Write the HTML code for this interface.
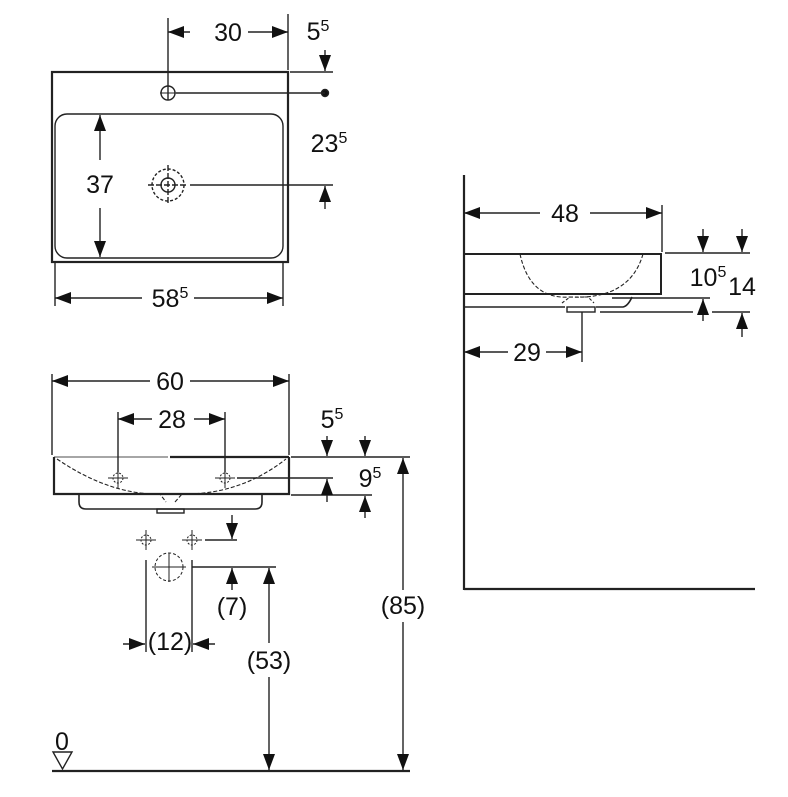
<!DOCTYPE html>
<html><head><meta charset="utf-8"><style>
html,body{margin:0;padding:0;background:#fff}
svg{display:block}
text{font-family:"Liberation Sans",sans-serif;font-size:25px;fill:#111}
.s{font-size:16px}
</style></head><body>
<svg id="d" width="788" height="797" viewBox="0 0 788 797" xmlns="http://www.w3.org/2000/svg">
<g id="g" stroke="#222" stroke-width="1.4" fill="none">
<!-- TOP VIEW -->
<rect x="52" y="72" width="236" height="190" stroke-width="2.2"/>
<rect x="55" y="114" width="228" height="144" rx="12"/>
<circle cx="168" cy="93" r="7"/>
<line x1="160" y1="93" x2="176" y2="93" stroke-width="1"/>
<circle cx="325" cy="93" r="3.5" fill="#111"/>
<circle cx="168" cy="185" r="7"/>
<circle cx="168" cy="185" r="16" stroke-dasharray="3,2"/>
<line x1="148" y1="185" x2="188" y2="185" stroke-dasharray="6,2"/>
<line x1="168" y1="165" x2="168" y2="205" stroke-dasharray="6,2"/>
<line x1="176" y1="93" x2="325" y2="93"/>
<line x1="168" y1="18" x2="168" y2="100"/>
<line x1="288" y1="14" x2="288" y2="70"/>
<line class="a" x1="190" y1="32" x2="168" y2="32"/>
<line class="a" x1="248" y1="32" x2="288" y2="32"/>
<line class="a" x1="325" y1="50" x2="325" y2="71"/>
<line x1="290" y1="72" x2="333" y2="72"/>
<line x1="190" y1="185" x2="333" y2="185"/>
<line class="a" x1="325" y1="209" x2="325" y2="186"/>
<line class="a" x1="100" y1="160" x2="100" y2="115"/>
<line class="a" x1="100" y1="208" x2="100" y2="257"/>
<line x1="55" y1="262" x2="55" y2="306"/>
<line x1="283" y1="262" x2="283" y2="306"/>
<line class="a" x1="142" y1="298" x2="55" y2="298"/>
<line class="a" x1="194" y1="298" x2="283" y2="298"/>
<!-- FRONT VIEW -->
<line x1="54" y1="457" x2="168" y2="457" stroke="#888"/>
<line x1="170" y1="457" x2="289" y2="457" stroke-width="2.2"/>
<path d="M54,457 V494 H289 V457" stroke-width="2.2"/>
<path d="M79,494 V502 Q79,509 86,509 H255 Q262,509 262,502 V494" stroke-width="1.6"/>
<rect x="157" y="509" width="27" height="4"/>
<path d="M57,459 Q110,495 160,494 L166,502 M175,502 L182,494 Q240,495 286,459" stroke-dasharray="4,2" stroke-width="1.1"/>
<g stroke-width="1">
<line x1="108" y1="478" x2="128" y2="478"/><line x1="118" y1="468" x2="118" y2="488"/><circle cx="118" cy="478" r="5" stroke-dasharray="2,1.5"/>
<line x1="215" y1="478" x2="235" y2="478"/><line x1="225" y1="468" x2="225" y2="488"/><circle cx="225" cy="478" r="5" stroke-dasharray="2,1.5"/>
<line x1="136" y1="540" x2="156" y2="540"/><line x1="146" y1="530" x2="146" y2="550"/><circle cx="146" cy="540" r="5" stroke-dasharray="2,1.5"/>
<line x1="182" y1="540" x2="202" y2="540"/><line x1="192" y1="530" x2="192" y2="550"/><circle cx="192" cy="540" r="5" stroke-dasharray="2,1.5"/>
<line x1="152" y1="567" x2="186" y2="567"/><line x1="169" y1="553" x2="169" y2="582"/><circle cx="169" cy="567" r="14" stroke-dasharray="3,2"/>
</g>
<line x1="52" y1="374" x2="52" y2="455"/>
<line x1="289" y1="374" x2="289" y2="455"/>
<line class="a" x1="150" y1="381" x2="52" y2="381"/>
<line class="a" x1="190" y1="381" x2="289" y2="381"/>
<line x1="118" y1="412" x2="118" y2="472"/>
<line x1="225" y1="412" x2="225" y2="472"/>
<line class="a" x1="152" y1="419" x2="118" y2="419"/>
<line class="a" x1="194" y1="419" x2="225" y2="419"/>
<line x1="237" y1="478" x2="333" y2="478"/>
<line x1="291" y1="457" x2="410" y2="457"/>
<line class="a" x1="327" y1="436" x2="327" y2="456"/>
<line class="a" x1="365" y1="436" x2="365" y2="456"/>
<line class="a" x1="327" y1="502" x2="327" y2="479"/>
<line x1="291" y1="495" x2="372" y2="495"/>
<line class="a" x1="365" y1="518" x2="365" y2="496"/>
<line class="a" x1="403" y1="590" x2="403" y2="458"/>
<line class="a" x1="403" y1="622" x2="403" y2="770"/>
<line x1="205" y1="540" x2="237" y2="540"/>
<line class="a" x1="232" y1="515" x2="232" y2="539"/>
<line x1="192" y1="567" x2="276" y2="567"/>
<line class="a" x1="232" y1="590" x2="232" y2="568"/>
<line class="a" x1="269" y1="643" x2="269" y2="568"/>
<line class="a" x1="269" y1="677" x2="269" y2="770"/>
<line x1="146" y1="560" x2="146" y2="652"/>
<line x1="192" y1="560" x2="192" y2="652"/>
<line class="a" x1="123" y1="644" x2="145" y2="644"/>
<line class="a" x1="215" y1="644" x2="193" y2="644"/>
<line x1="52" y1="771" x2="410" y2="771" stroke-width="2.2"/>
<path d="M53,752 H72 L62.5,769 Z"/>
<!-- SIDE VIEW -->
<line x1="464" y1="175" x2="464" y2="590" stroke-width="2.2"/>
<line x1="464" y1="589" x2="755" y2="589" stroke-width="2.2"/>
<line x1="662" y1="205" x2="662" y2="252"/>
<line class="a" x1="540" y1="213" x2="464" y2="213"/>
<line class="a" x1="590" y1="213" x2="662" y2="213"/>
<path d="M464,254 H661 V294 H464" stroke-width="2"/>
<path d="M464,307 H565 M596,307 H623 Q628,306 632,297" stroke-width="1.6"/>
<rect x="567" y="307" width="28" height="5"/>
<path d="M520,254 Q530,300 570,297 Q630,300 643,254" stroke-dasharray="4,2" stroke-width="1.1"/>
<path d="M562,303 L570,297 H588 L594,303" stroke-dasharray="3,2" stroke-width="1.1"/>
<line x1="665" y1="253" x2="750" y2="253"/>
<line class="a" x1="703" y1="229" x2="703" y2="252"/>
<line class="a" x1="742" y1="229" x2="742" y2="252"/>
<line x1="612" y1="298" x2="710" y2="298"/>
<line class="a" x1="703" y1="321" x2="703" y2="299"/>
<line x1="600" y1="312" x2="693" y2="312"/>
<line x1="712" y1="312" x2="750" y2="312"/>
<line class="a" x1="742" y1="337" x2="742" y2="313"/>
<line x1="582" y1="312" x2="582" y2="362"/>
<line class="a" x1="508" y1="352" x2="464" y2="352"/>
<line class="a" x1="546" y1="352" x2="582" y2="352"/>
</g>
<g id="ar" fill="#111"></g>
<!-- TEXT -->
<text x="228" y="41" text-anchor="middle">30</text>
<text x="318" y="40" text-anchor="middle">5<tspan class="s" dy="-9">5</tspan></text>
<text x="329" y="152" text-anchor="middle">23<tspan class="s" dy="-9">5</tspan></text>
<text x="100" y="193" text-anchor="middle">37</text>
<text x="170" y="307" text-anchor="middle">58<tspan class="s" dy="-9">5</tspan></text>
<text x="170" y="390" text-anchor="middle">60</text>
<text x="172" y="428" text-anchor="middle">28</text>
<text x="332" y="428" text-anchor="middle">5<tspan class="s" dy="-9">5</tspan></text>
<text x="370" y="487" text-anchor="middle">9<tspan class="s" dy="-9">5</tspan></text>
<text x="403" y="614" text-anchor="middle">(85)</text>
<text x="232" y="615" text-anchor="middle">(7)</text>
<text x="170" y="650" text-anchor="middle">(12)</text>
<text x="269" y="669" text-anchor="middle">(53)</text>
<text x="62" y="750" text-anchor="middle">0</text>
<text x="565" y="222" text-anchor="middle">48</text>
<text x="708" y="286" text-anchor="middle">10<tspan class="s" dy="-9">5</tspan></text>
<text x="742" y="295" text-anchor="middle">14</text>
<text x="527" y="361" text-anchor="middle">29</text>
</svg>
<script>
(function(){
var ns="http://www.w3.org/2000/svg",ar=document.getElementById("ar");
var ls=document.querySelectorAll("line.a");
for(var i=0;i<ls.length;i++){
var l=ls[i],x1=+l.getAttribute("x1"),y1=+l.getAttribute("y1"),x2=+l.getAttribute("x2"),y2=+l.getAttribute("y2");
var dx=x2-x1,dy=y2-y1,d=Math.sqrt(dx*dx+dy*dy);dx/=d;dy/=d;
var L=16,W=6,bx=x2-dx*L,by=y2-dy*L;
var p=document.createElementNS(ns,"polygon");
p.setAttribute("points",x2+","+y2+" "+(bx-dy*W)+","+(by+dx*W)+" "+(bx+dy*W)+","+(by-dx*W));
ar.appendChild(p);
}})();
</script>
</body></html>
